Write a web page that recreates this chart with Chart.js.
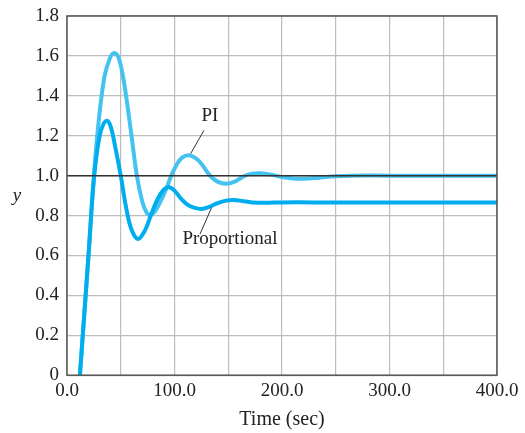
<!DOCTYPE html>
<html lang="en">
<head>
    <meta charset="UTF-8">
    <title>PI vs Proportional response</title>
    <script src="https://cdn.jsdelivr.net/npm/chart.js"></script>
    <style>
        body { margin: 0; background: #fff; }
        #wrap { width: 525px; height: 433px; }
    </style>
</head>
<body>
    <div id="wrap"><canvas id="myChart"></canvas></div>

    <script>
        // values (time in sec, response y)
        const piTime = [12, 16, 20, 25, 30, 35, 40, 44, 48, 52, 56, 60, 65, 70, 74, 77, 81, 86, 92, 97, 102, 107, 113, 119, 125, 133, 140, 148, 156, 165, 172, 180, 190, 200, 210, 220, 235, 250, 265, 300, 350, 400];
        const piY    = [0, 0.3, 0.6, 1.0, 1.3, 1.5, 1.59, 1.615, 1.59, 1.5, 1.36, 1.2, 1.0, 0.87, 0.815, 0.803, 0.815, 0.86, 0.93, 1.0, 1.055, 1.09, 1.102, 1.09, 1.06, 1.0, 0.97, 0.959, 0.97, 0.998, 1.01, 1.012, 1.005, 0.993, 0.986, 0.984, 0.99, 0.997, 1.0, 1.0, 1.0, 1.0];

        const propTime = [12, 16, 20, 25, 30, 34, 37.5, 41, 45, 50, 55, 60, 66, 72, 78, 84, 90, 95, 100, 106, 112, 118, 125, 132, 140, 148, 155, 163, 172, 185, 200, 230, 270, 320, 400];
        const propY    = [0, 0.3, 0.6, 0.98, 1.19, 1.26, 1.275, 1.24, 1.14, 1.0, 0.84, 0.73, 0.683, 0.72, 0.8, 0.88, 0.93, 0.942, 0.925, 0.885, 0.855, 0.84, 0.833, 0.843, 0.862, 0.875, 0.878, 0.873, 0.866, 0.864, 0.866, 0.866, 0.866, 0.866, 0.866];

        const xTicks = [0, 100, 200, 300, 400];

        // callout labels: text, text anchor, leader line start, leader line end (data coords)
        const labels = [
            { text: 'PI', at: [133, 1.30], from: [127.4, 1.227], to: [115, 1.11] },
            { text: 'Proportional', at: [151.6, 0.68], from: [123.7, 0.707], to: [134.6, 0.841] }
        ];

        const serif = '"Liberation Serif", "DejaVu Serif", serif';

        function pts(xs, ys) {
            return xs.map((x, i) => ({ x: x, y: ys[i] }));
        }

        const decorPlugin = {
            id: 'decor',
            afterDatasetsDraw(chart) {
                const ctx = chart.ctx;
                const xs = chart.scales.x, ys = chart.scales.y;
                const a = chart.chartArea;
                ctx.save();
                // the y = 1.0 reference line sits on top of the curves
                ctx.strokeStyle = '#333';
                ctx.lineWidth = 1.5;
                ctx.beginPath();
                ctx.moveTo(a.left, ys.getPixelForValue(1.0));
                ctx.lineTo(a.right, ys.getPixelForValue(1.0));
                ctx.stroke();
                // frame
                ctx.strokeStyle = '#555';
                ctx.lineWidth = 1.5;
                ctx.strokeRect(a.left, a.top, a.right - a.left, a.bottom - a.top);
                // callouts
                ctx.font = '19px ' + serif;
                ctx.fillStyle = '#222';
                ctx.textAlign = 'center';
                ctx.textBaseline = 'middle';
                ctx.strokeStyle = '#333';
                ctx.lineWidth = 1;
                labels.forEach(l => {
                    ctx.fillText(l.text, xs.getPixelForValue(l.at[0]), ys.getPixelForValue(l.at[1]));
                    ctx.beginPath();
                    ctx.moveTo(xs.getPixelForValue(l.from[0]), ys.getPixelForValue(l.from[1]));
                    ctx.lineTo(xs.getPixelForValue(l.to[0]), ys.getPixelForValue(l.to[1]));
                    ctx.stroke();
                });
                // horizontal italic y axis label
                ctx.font = 'italic 19px ' + serif;
                ctx.fillText('y', 17, ys.getPixelForValue(0.9));
                ctx.restore();
            }
        };

        const ctx = document.getElementById('myChart').getContext('2d');
        const myChart = new Chart(ctx, {
            type: 'line',
            data: {
                datasets: [{
                    label: 'Proportional',
                    data: pts(propTime, propY),
                    borderColor: '#00adee',
                    borderWidth: 4,
                    pointRadius: 0,
                    tension: 0.35
                }, {
                    label: 'PI',
                    data: pts(piTime, piY),
                    borderColor: '#45c3f0',
                    borderWidth: 4,
                    pointRadius: 0,
                    tension: 0.35
                }]
            },
            options: {
                responsive: true,
                maintainAspectRatio: false,
                animation: false,
                layout: { padding: { top: 16, right: 28, left: 0, bottom: 1 } },
                plugins: {
                    legend: { display: false },
                    tooltip: { enabled: false }
                },
                scales: {
                    x: {
                        type: 'linear',
                        min: 0,
                        max: 400,
                        afterBuildTicks: axis => { axis.ticks = [0, 50, 100, 150, 200, 250, 300, 350, 400].map(v => ({ value: v })); },
                        grid: { color: '#bdbdbd', lineWidth: 1.2, drawTicks: false },
                        border: { display: false },
                        ticks: {
                            padding: 4,
                            color: '#222',
                            font: { family: serif, size: 19 },
                            callback: v => xTicks.includes(v) ? v.toFixed(1) : ''
                        },
                        title: {
                            display: true,
                            text: 'Time (sec)',
                            color: '#222',
                            font: { family: serif, size: 20 },
                            padding: { top: 2, bottom: 0 }
                        }
                    },
                    y: {
                        min: 0,
                        max: 1.8,
                        afterFit: axis => { axis.width = 67; axis.paddingTop = 0; axis.paddingBottom = 0; },
                        grid: { color: '#bdbdbd', lineWidth: 1.2, drawTicks: false },
                        border: { display: false },
                        ticks: {
                            stepSize: 0.2,
                            padding: 8,
                            color: '#222',
                            font: { family: serif, size: 19 },
                            callback: v => Math.abs(v) < 1e-9 ? '0' : v.toFixed(1)
                        }
                    }
                }
            },
            plugins: [decorPlugin]
        });
    </script>
</body>
</html>
